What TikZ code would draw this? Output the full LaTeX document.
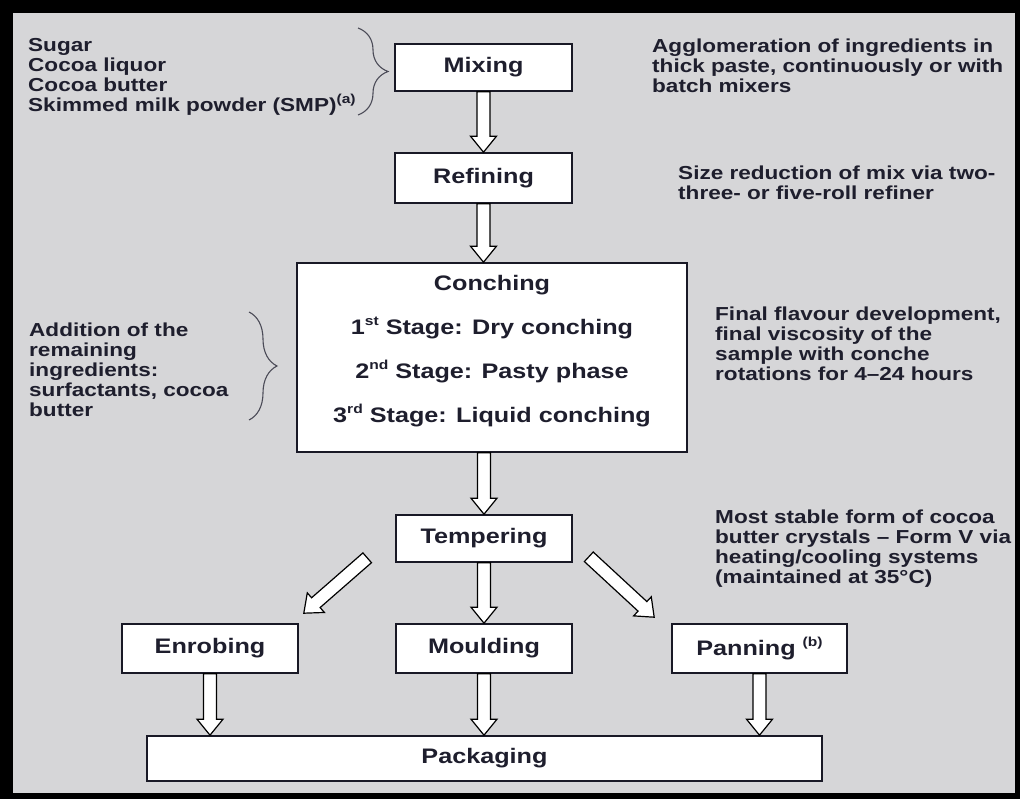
\documentclass[tikz,border=0pt]{standalone}
\usepackage{fontspec}
\setmainfont{Liberation Sans}[FakeStretch=1.2]
\usetikzlibrary{calc,decorations.pathreplacing}

\definecolor{panel}{RGB}{214,214,216}
\definecolor{ink}{RGB}{30,30,45}

% small raised marks (ordinals, footnote letters)
\newcommand\upmark[1]{\raisebox{0.42em}{\fontsize{13}{13}\selectfont #1}}

% hollow block arrow from #1 to #2 (shaft half-width 6.5, head half-width 13)
\newcommand\flowarrow[2]{%
  \coordinate (fa-s) at (#1);
  \coordinate (fa-e) at (#2);
  \coordinate (fa-b) at ($(fa-e)!16pt!(fa-s)$);
  \draw[flowarr]
    ($(fa-s)!6.5pt!90:(fa-e)$) -- ($(fa-b)!6.5pt!90:(fa-e)$) --
    ($(fa-b)!13pt!90:(fa-e)$) -- (fa-e) --
    ($(fa-b)!13pt!-90:(fa-e)$) -- ($(fa-b)!6.5pt!-90:(fa-e)$) --
    ($(fa-s)!6.5pt!-90:(fa-e)$) -- cycle;
}

\tikzset{
  stagebox/.style={draw=ink!85!black, line width=1.6pt, fill=white, inner sep=0pt,
    font=\fontsize{21}{24}\selectfont\bfseries, text=ink},
  stagetext/.style={inner sep=0pt, align=center, text=ink,
    font=\fontsize{21}{44}\selectfont\bfseries},
  note/.style={anchor=north west, inner sep=0pt, align=left, text=ink,
    font=\fontsize{18.8}{20}\selectfont\bfseries},
  flowarr/.style={draw=black, line width=1.2pt, fill=white, line join=miter},
  curly/.style={draw=ink!80, line width=1.1pt, decorate,
    decoration={brace, amplitude=#1}},
}

\begin{document}
\begin{tikzpicture}[x=1pt, y=-1pt]
  \useasboundingbox (0,0) rectangle (1020,799);
  % frame
  \fill[black] (0,0) rectangle (1020,799);
  \fill[panel] (13,13) rectangle (1015,793);

  % process steps
  \node[stagebox, minimum width=177, minimum height=47] (mix) at (483.5,67.5) {Mixing};
  \node[stagebox, minimum width=177, minimum height=50] (ref) at (483.5,178) {Refining};
  \node[stagebox, minimum width=390, minimum height=189] (conch) at (492,357.5) {};
  \node[stagetext, anchor=north] (conchtext) at (492,275)
    {Conching\\1\upmark{st} Stage: Dry conching\\2\upmark{nd} Stage: Pasty phase\\3\upmark{rd} Stage: Liquid conching};
  \node[stagebox, minimum width=176, minimum height=47] (temp) at (484,538.5) {Tempering};
  \node[stagebox, minimum width=176, minimum height=49] (enrob) at (210,648.5) {Enrobing};
  \node[stagebox, minimum width=176, minimum height=49] (mould) at (484,648.5) {Moulding};
  \node[stagebox, minimum width=175, minimum height=49] (pan) at (759.5,648.5) {Panning \upmark{(b)}};
  \node[stagebox, minimum width=675, minimum height=45] (pack) at (484.5,758.5) {Packaging};

  % side notes
  \node[note] (ingr) at (28,38) {Sugar\\Cocoa liquor\\Cocoa butter\\Skimmed milk powder (SMP)\upmark{(a)}};
  \node[note] (agglo) at (652,39) {Agglomeration of ingredients in\\thick paste, continuously or with\\batch mixers};
  \node[note] (sizered) at (678,166) {Size reduction of mix via two-\\three- or five-roll refiner};
  \node[note] (addition) at (29,323) {Addition of the\\remaining\\ingredients:\\surfactants, cocoa\\butter};
  \node[note] (flavour) at (715,307) {Final flavour development,\\final viscosity of the\\sample with conche\\rotations for 4--24 hours};
  \node[note] (stable) at (715,510) {Most stable form of cocoa\\butter crystals -- Form V via\\heating/cooling systems\\(maintained at 35°C)};

  % braces
  \draw[curly=30pt] (358,28) -- (358,115);
  \draw[curly=28pt] (249,312) -- (249,420);

  % flow arrows
  \flowarrow{mix.south}{ref.north}
  \flowarrow{ref.south}{ref.south |- conch.north}
  \flowarrow{temp.north |- conch.south}{temp.north}
  \flowarrow{temp.south}{mould.north}
  \coordinate (tl) at ($(temp.south west)+(-28,-5)$);
  \coordinate (tlend) at ($(enrob.north east)+(5,-10)$);
  \coordinate (tr) at ($(temp.south east)+(16,-6)$);
  \coordinate (trend) at ($(pan.north west)+(-17,-6)$);
  \flowarrow{tl}{tlend}
  \flowarrow{tr}{trend}
  \flowarrow{enrob.south}{enrob.south |- pack.north}
  \flowarrow{mould.south}{mould.south |- pack.north}
  \flowarrow{pan.south}{pan.south |- pack.north}
\end{tikzpicture}
\end{document}
